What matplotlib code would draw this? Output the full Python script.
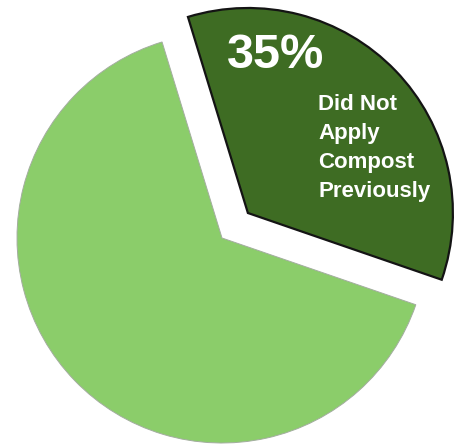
import matplotlib
matplotlib.use("Agg")
import matplotlib.pyplot as plt

# compost usage split
labels = ["Did Not\nApply\nCompost\nPreviously", "Applied Compost Previously"]
shares = [35, 65]
colors = ["#3E6C23", "#8BCD6A"]

W, H = 455, 446
fig = plt.figure(figsize=(W / 100, H / 100), dpi=100)
ax = fig.add_axes([0, 0, 1, 1])

# work in pixel-like data units so the pie sits where we want it
wedges, _ = ax.pie(shares, colors=colors, startangle=107, counterclock=False,
                   radius=205, center=(222, 208), explode=[36, 0])

wedges[0].set_edgecolor("#141414")
wedges[0].set_linewidth(1.6)
wedges[1].set_edgecolor("#a3ad9f")
wedges[1].set_linewidth(0.7)

ax.set_xlim(0, W)
ax.set_ylim(0, H)
ax.set_aspect("equal")
ax.axis("off")

ax.text(276, H - 56, f"{shares[0]}%", color="white", fontsize=35,
        fontweight="bold", family="Liberation Sans", ha="center", va="center")
ax.text(318, H - 94, labels[0], color="white", fontsize=16,
        fontweight="bold", family="Liberation Sans", ha="left", va="top",
        linespacing=1.5)

fig.savefig("out.png", dpi=100)
